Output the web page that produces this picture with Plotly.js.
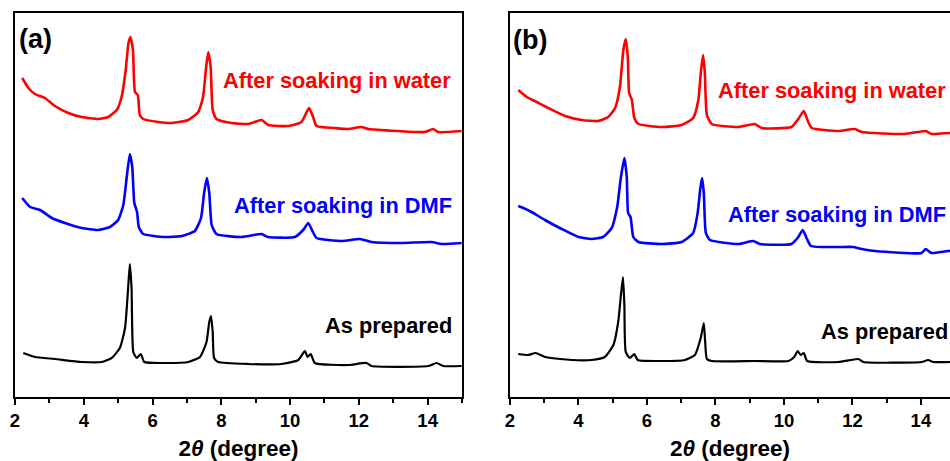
<!DOCTYPE html>
<html>
<head>
<meta charset="utf-8">
<script src="https://cdn.plot.ly/plotly-3.0.1.min.js"></script>
<style>html,body{margin:0;padding:0;background:#fff;}#chart{width:950px;height:461px;}</style>
</head>
<body>
<div id="chart"></div>
<script>
// ---- Panel (a) ----
const xa_water = [2.21,2.39,2.58,2.87,3.16,3.55,3.94,4.42,4.71,4.96,5.10,5.22,5.30,5.36,5.43,5.49,5.57,5.63,5.73,6.17,6.56,7.04,7.33,7.47,7.56,7.62,7.69,7.75,7.86,8.30,8.78,9.17,9.36,9.95,10.33,10.55,10.67,10.77,11.30,11.69,12.08,12.27,13.14,13.92,14.16,14.31,14.99];
const ya_water = [319,309,303,299,291,284,280,278,280,287,300,327,354,360,347,305,302,282,278,275,274,277,285,300,330,345,330,287,278,274,273,277,272,271,275,289,280,271,269,268,270,268,266,265,268,265,266];

const xa_dmf = [2.21,2.44,2.73,3.07,3.45,3.94,4.42,4.76,5.00,5.15,5.25,5.34,5.41,5.47,5.55,5.60,5.73,6.36,6.85,7.23,7.41,7.50,7.58,7.65,7.72,7.86,8.59,9.17,9.36,10.14,10.38,10.53,10.65,10.77,11.50,12.03,12.37,13.24,14.11,14.40,14.99];
const ya_dmf = [199,190,187,179,174,169,167,170,177,192,220,243,230,194,185,170,163,160,161,166,179,204,219,204,172,163,160,163,160,160,167,174,166,159,156,158,155,154,155,153,154];

const xa_prep = [2.24,2.58,3.16,3.94,4.52,4.81,5.05,5.20,5.29,5.34,5.39,5.44,5.54,5.66,5.76,6.36,7.04,7.38,7.57,7.65,7.70,7.75,7.79,7.91,8.78,9.75,10.24,10.43,10.51,10.60,10.72,11.69,12.22,12.37,14.02,14.26,14.45,14.99];
const ya_prep = [44,40,38,35,35,39,49,69,109,133,109,45,39,43,35,34,35,40,55,75,81,65,39,35,33,33,37,46,40,43,34,32,34,31,31,34,31,31];

// ---- Panel (b) ----
const xb_water = [2.24,2.49,2.78,3.12,3.61,4.09,4.58,4.87,5.07,5.21,5.31,5.38,5.44,5.48,5.56,5.63,5.75,6.43,7.01,7.35,7.50,7.58,7.64,7.69,7.75,7.89,8.67,9.15,9.35,10.22,10.44,10.58,10.71,10.81,11.59,12.07,12.27,13.53,14.14,14.31,14.85,15.0];
const yb_water = [307,300,295,289,281,277,276,280,289,310,347,358,340,304,297,279,273,270,272,279,297,327,342,324,282,273,270,273,269,270,279,286,275,269,266,268,265,263,266,263,264,264];

const xb_dmf = [2.24,2.39,2.63,3.02,3.51,4.00,4.38,4.72,4.97,5.13,5.24,5.34,5.41,5.45,5.52,5.60,5.75,6.43,7.01,7.35,7.48,7.56,7.61,7.66,7.72,7.84,8.67,9.10,9.30,10.22,10.42,10.55,10.66,10.79,11.59,12.02,12.27,12.66,14.02,14.14,14.31,14.79,15.0];
const yb_dmf = [191,189,185,177,168,160,158,160,169,190,220,239,220,184,180,160,155,153,155,164,184,209,219,204,164,157,153,156,153,153,160,167,159,151,150,150,148,146,144,148,144,146,146];

const xb_prep = [2.24,2.53,2.75,3.02,3.80,4.38,4.77,5.02,5.16,5.24,5.30,5.34,5.38,5.50,5.63,5.73,6.43,7.11,7.40,7.57,7.66,7.70,7.75,7.89,9.15,10.13,10.30,10.40,10.49,10.58,10.68,11.59,12.17,12.32,14.02,14.21,14.36,14.85,15.0];
const yb_prep = [43,42,44,40,37,37,40,52,75,102,120,92,45,39,43,37,36,37,42,59,74,55,38,36,36,36,40,46,42,44,36,35,38,35,35,37,35,35,35];

const tickVals = [2,4,6,8,10,12,14];
const tickText = ['2','4','6','8','10','12','14'];
const labels = ['After soaking in water','After soaking in DMF','As prepared'];
const panelLabels = ['(a)','(b)'];
const xTitle = '<b>2<i>θ</i> (degree)</b>';

const RED = '#ff0000', BLUE = '#0000ff', BLACK = '#000000';
const FONT = 'Arial, "Liberation Sans", Helvetica, sans-serif';

function tr(x, y, color, w, xa, ya) {
  return {x: x, y: y, type: 'scatter', mode: 'lines',
          line: {color: color, width: w, shape: 'spline', smoothing: 0.5},
          xaxis: xa, yaxis: ya, hoverinfo: 'skip', showlegend: false};
}

const data = [
  tr(xa_water, ya_water, RED, 2.6, 'x', 'y'),
  tr(xa_dmf, ya_dmf, BLUE, 2.6, 'x', 'y'),
  tr(xa_prep, ya_prep, BLACK, 2.2, 'x', 'y'),
  tr(xb_water, yb_water, RED, 2.6, 'x2', 'y2'),
  tr(xb_dmf, yb_dmf, BLUE, 2.6, 'x2', 'y2'),
  tr(xb_prep, yb_prep, BLACK, 2.2, 'x2', 'y2')
];

function xaxis(domain, range, anchor) {
  return {
    domain: domain, range: range, anchor: anchor,
    showline: true, linecolor: '#000', linewidth: 2, mirror: true,
    ticks: 'outside', ticklen: 6, tickwidth: 2, tickcolor: '#000',
    tickvals: tickVals, ticktext: tickText,
    minor: {dtick: 1, tick0: 1, ticks: 'outside', ticklen: 4, tickwidth: 2, tickcolor: '#000', showgrid: false},
    tickfont: {family: FONT, size: 18.5, color: '#000', weight: 'bold'},
    showgrid: false, zeroline: false,
    title: {text: xTitle, font: {family: FONT, size: 22.5, color: '#000'}, standoff: 10}
  };
}
function yaxis(domain, anchor) {
  return {
    domain: domain, range: [0, 384], anchor: anchor,
    showline: true, linecolor: '#000', linewidth: 2, mirror: true,
    ticks: '', showticklabels: false, showgrid: false, zeroline: false
  };
}

function ann(text, x, y, xref, yref, color, size, xanchor) {
  return {text: '<b>' + text + '</b>', x: x, y: y, xref: xref, yref: yref,
          xanchor: xanchor, yanchor: 'middle', showarrow: false,
          font: {family: FONT, size: size, color: color}};
}

const LS = 21.8;
const layout = {
  width: 950, height: 461,
  margin: {l: 0, r: 0, t: 13, b: 64},
  paper_bgcolor: '#fff', plot_bgcolor: '#fff',
  xaxis: xaxis([15/950, 462/950], [2, 15], 'y'),
  yaxis: yaxis([0, 1], 'x'),
  xaxis2: xaxis([510/950, 1], [2, 14.85], 'y2'),
  yaxis2: yaxis([0, 1], 'x2'),
  annotations: [
    ann(panelLabels[0], 2.05, 358, 'x', 'y', '#000', 27, 'left'),
    ann(labels[0], 14.74, 317, 'x', 'y', RED, LS, 'right'),
    ann(labels[1], 14.77, 192, 'x', 'y', BLUE, LS, 'right'),
    ann(labels[2], 14.77, 72, 'x', 'y', '#000', LS, 'right'),
    ann(panelLabels[1], 2.02, 357, 'x2', 'y2', '#000', 27, 'left'),
    ann(labels[0], 14.8, 307, 'x2', 'y2', RED, LS, 'right'),
    ann(labels[1], 14.8, 183, 'x2', 'y2', BLUE, LS, 'right'),
    ann(labels[2], 14.85, 66, 'x2', 'y2', '#000', LS, 'right')
  ]
};

Plotly.newPlot('chart', data, layout, {staticPlot: true, displayModeBar: false});
</script>
</body>
</html>
